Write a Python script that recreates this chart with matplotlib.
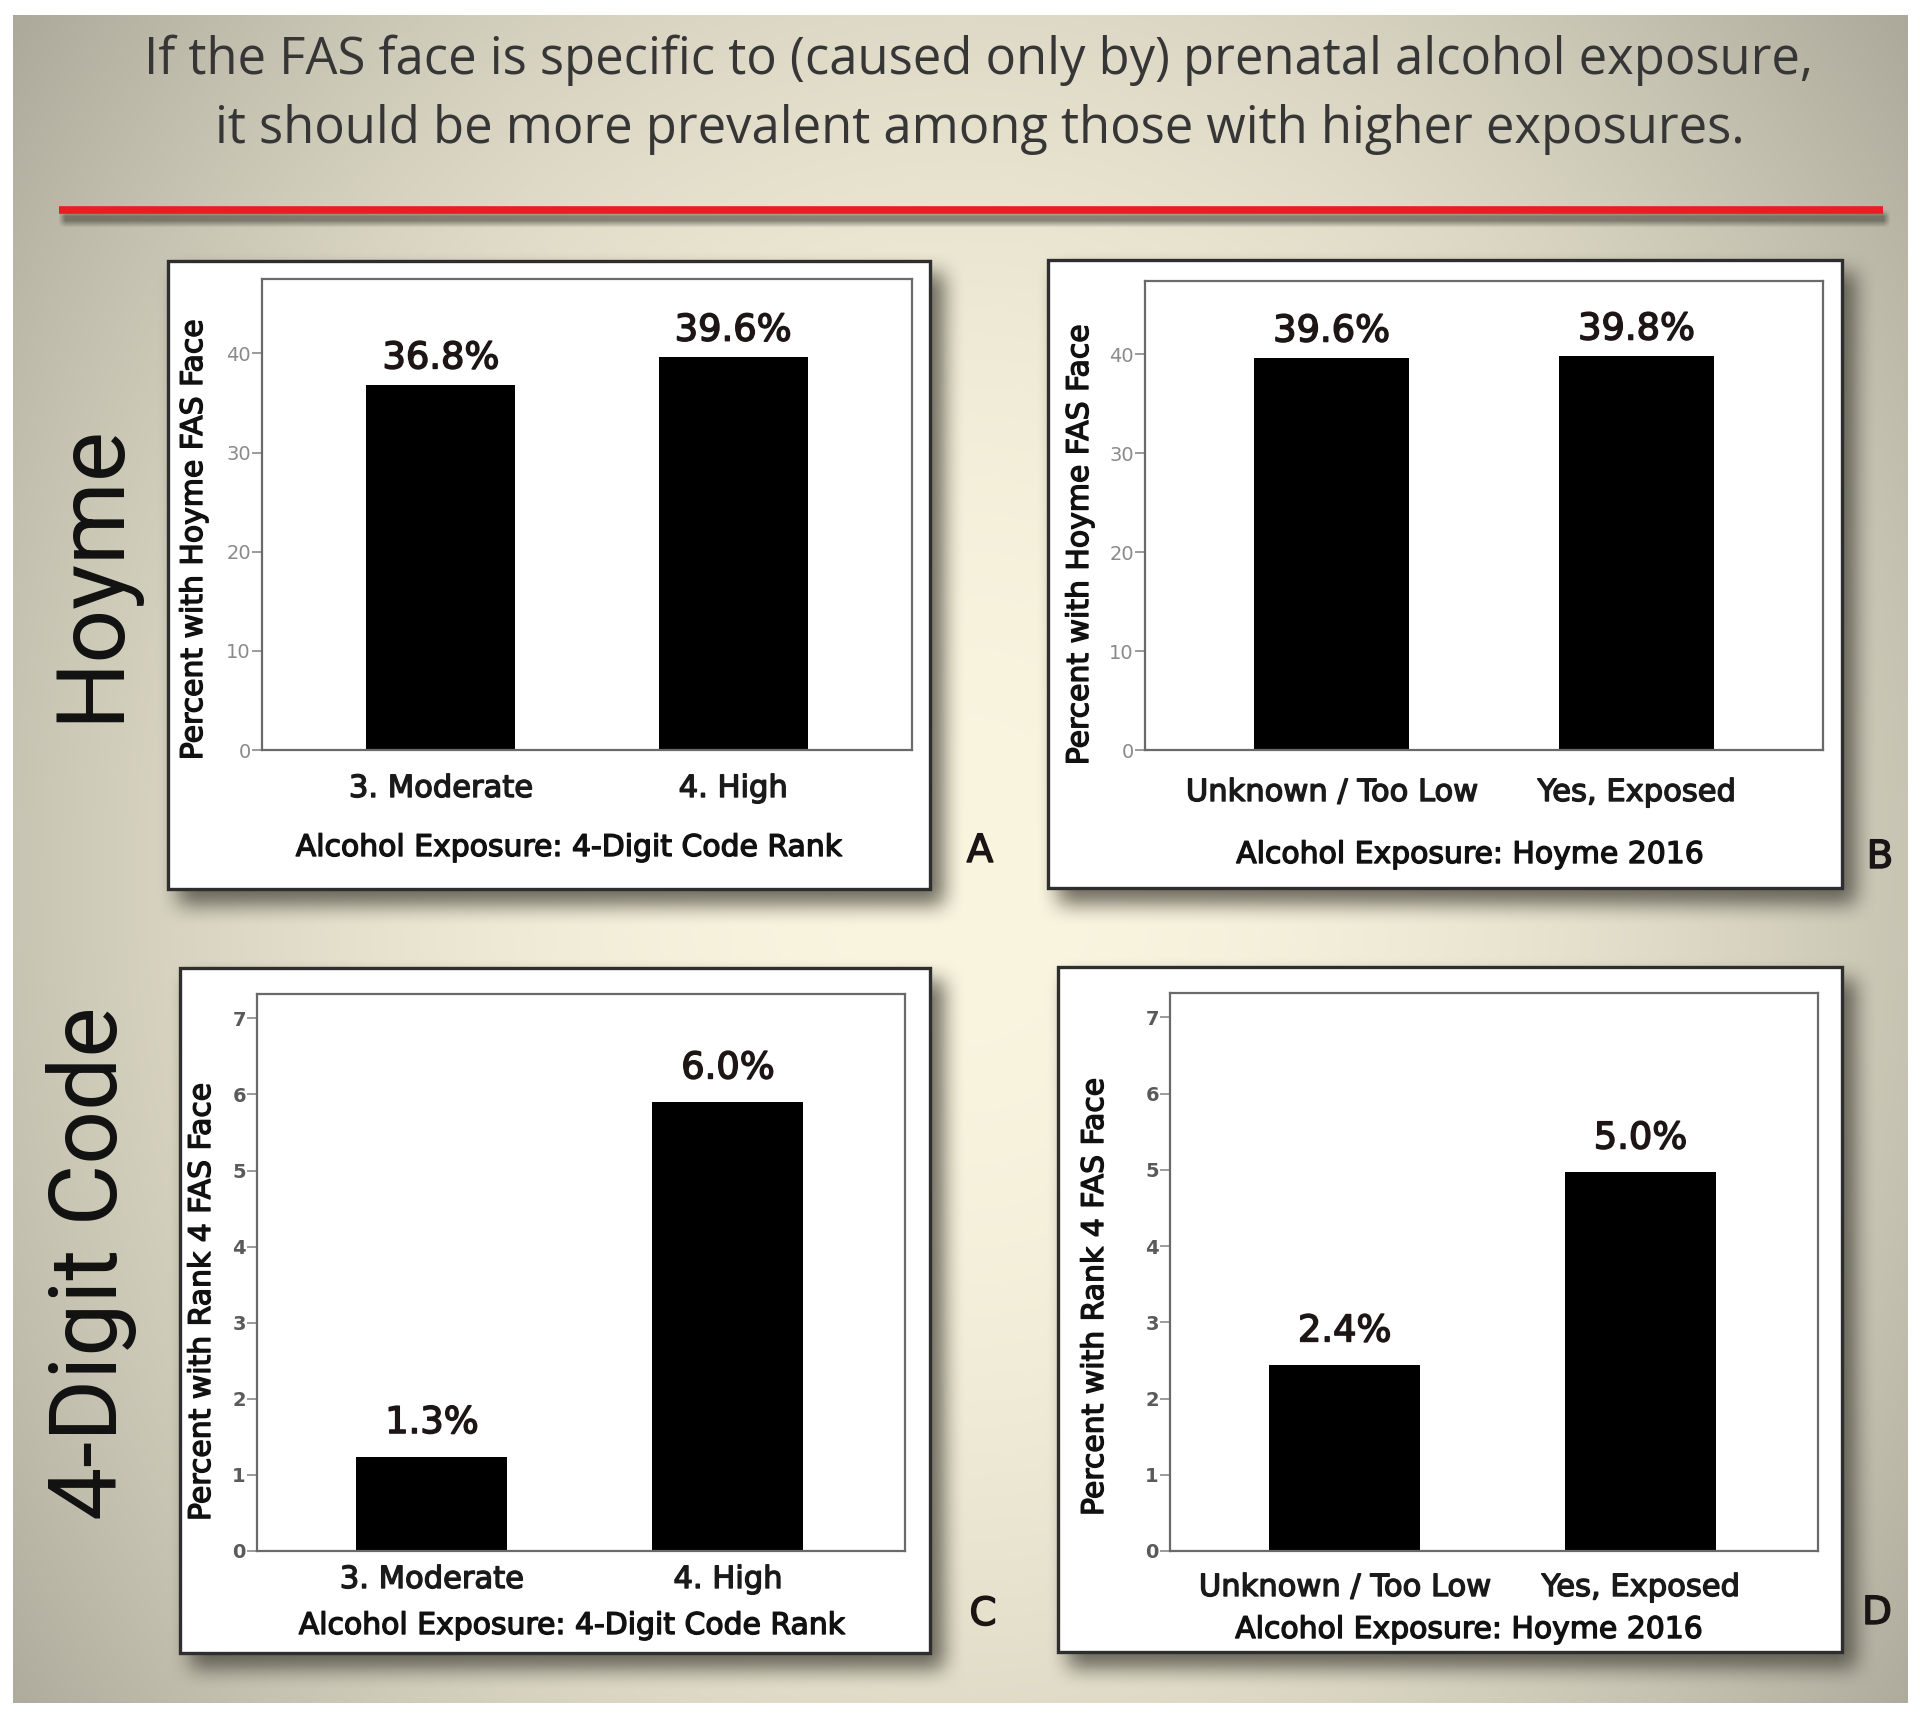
import numpy as np
import matplotlib
matplotlib.use("Agg")
import matplotlib.pyplot as plt
import matplotlib.patheffects as pe
from matplotlib.patches import Rectangle

W, H = 1920, 1714

# ---------------- data ----------------
title_lines = ["If the FAS face is specific to (caused only by) prenatal alcohol exposure,",
               "it should be more prevalent among those with higher exposures."]
row_labels = ["Hoyme", "4-Digit Code"]
panel_letters = ["A", "B", "C", "D"]

cats_rank = ["3. Moderate", "4. High"]
cats_hoyme = ["Unknown / Too Low", "Yes, Exposed"]
xlabel_rank = "Alcohol Exposure: 4-Digit Code Rank"
xlabel_hoyme = "Alcohol Exposure: Hoyme 2016"
ylabel_hoyme_face = "Percent with Hoyme FAS Face"
ylabel_rank4_face = "Percent with Rank 4 FAS Face"

vals_A = [36.8, 39.6]
labels_A = ["36.8%", "39.6%"]
vals_B = [39.6, 39.8]
labels_B = ["39.6%", "39.8%"]
vals_C = [1.24, 5.90]
labels_C = ["1.3%", "6.0%"]
vals_D = [2.44, 4.97]
labels_D = ["2.4%", "5.0%"]

yticks_hoyme = [0, 10, 20, 30, 40]
yticks_rank4 = [0, 1, 2, 3, 4, 5, 6, 7]

# ---------------- layout (pixels) ----------------
panels = [
    dict(box=(168, 261, 930, 889), ax=(262, 279, 912, 750), cats=cats_rank, vals=vals_A,
         labels=labels_A, yt=yticks_hoyme, ylim=47.5, xlim=(-0.612, 1.612), ylab=ylabel_hoyme_face,
         ylab_pos=(202, 540), xlab=xlabel_rank, xlab_pos=(569, 856), tick_base=797,
         lab_off=12.0, tcol="#8a8a8a", tweight="normal", letter=(980, 862)),
    dict(box=(1048, 260, 1842, 888), ax=(1145, 281, 1823, 750), cats=cats_hoyme, vals=vals_B,
         labels=labels_B, yt=yticks_hoyme, ylim=47.4, xlim=(-0.612, 1.612), ylab=ylabel_hoyme_face,
         ylab_pos=(1088, 545), xlab=xlabel_hoyme, xlab_pos=(1470, 863), tick_base=801,
         lab_off=12.0, tcol="#8a8a8a", tweight="normal", letter=(1880, 868)),
    dict(box=(180, 968, 930, 1653), ax=(257, 994, 905, 1551), cats=cats_rank, vals=vals_C,
         labels=labels_C, yt=yticks_rank4, ylim=7.32, xlim=(-0.59, 1.598), ylab=ylabel_rank4_face,
         ylab_pos=(210, 1302), xlab=xlabel_rank, xlab_pos=(572, 1634), tick_base=1588,
         lab_off=17.0, tcol="#5a5a5a", tweight="bold", letter=(983, 1625)),
    dict(box=(1058, 967, 1842, 1652), ax=(1170, 993, 1818, 1551), cats=cats_hoyme, vals=vals_D,
         labels=labels_D, yt=yticks_rank4, ylim=7.32, xlim=(-0.59, 1.60), ylab=ylabel_rank4_face,
         ylab_pos=(1103, 1297), xlab=xlabel_hoyme, xlab_pos=(1469, 1638), tick_base=1596,
         lab_off=17.0, tcol="#5a5a5a", tweight="bold", letter=(1877, 1624)),
]

# ---------------- background image ----------------
def box_blur(a, r):
    k = 2 * r + 1
    p = np.pad(a, ((r + 1, r), (0, 0)), mode="edge")
    c = np.cumsum(p, axis=0)
    a = (c[k:] - c[:-k]) / k
    p = np.pad(a, ((0, 0), (r + 1, r)), mode="edge")
    c = np.cumsum(p, axis=1)
    return (c[:, k:] - c[:, :-k]) / k

yy, xx = np.mgrid[0:H, 0:W].astype(float)
d = np.sqrt(((xx - 960) / 1150.0) ** 2 + ((yy - 880) / 1400.0) ** 2)
t = np.clip(d, 0, 1.1) ** 2
t = np.clip(t, 0, 1.05)
C0 = np.array([250, 245, 223]) / 255.0
C1 = np.array([176, 173, 158]) / 255.0
img = C0[None, None, :] + (C1 - C0)[None, None, :] * t[:, :, None]

S = np.zeros((H, W))
for p in panels:
    x0, y0, x1, y1 = p["box"]
    S[y0 + 12:y1 + 16, x0 + 10:x1 + 14] = 1.0
S = box_blur(box_blur(S, 11), 11)
L = np.zeros((H, W))
L[213:224, 62:1887] = 1.0
L = box_blur(L, 3)
A = np.clip(0.78 * S + 0.6 * L, 0, 0.9)
shadow_col = np.array([70, 68, 58]) / 255.0
img = img * (1 - A[:, :, None]) + shadow_col[None, None, :] * A[:, :, None]

outside = (xx < 13) | (xx > 1907) | (yy < 15) | (yy > 1702)
img[outside] = 1.0

# ---------------- figure ----------------
fig = plt.figure(figsize=(W / 100, H / 100), dpi=100)
bg = fig.add_axes([0, 0, 1, 1], zorder=0)
bg.imshow(img, extent=[0, W, H, 0], aspect="auto", interpolation="bilinear")
bg.set_xlim(0, W)
bg.set_ylim(H, 0)
bg.axis("off")

def thick(color, lw=0.9):
    return [pe.withStroke(linewidth=lw, foreground=color)]

# title
bg.text(978, 74, title_lines[0], family="Open Sans", fontsize=36.5, color="#363636",
        ha="center", va="baseline")
bg.text(980, 143, title_lines[1], family="Open Sans", fontsize=36.5, color="#363636",
        ha="center", va="baseline")
# red rule
bg.plot([59, 1883], [210, 210], color="#ec1c24", lw=5.5, solid_capstyle="butt")

# row labels
for lab, yc in zip(row_labels, [573, 1263]):
    bg.text(117, yc, lab, family="Roboto", fontweight="normal", fontsize=68,
            color="#111111", rotation=90, rotation_mode="anchor", ha="center", va="baseline")

for i, p in enumerate(panels):
    x0, y0, x1, y1 = p["box"]
    bg.add_patch(Rectangle((x0, y0), x1 - x0, y1 - y0, facecolor="white",
                           edgecolor="#2e2e2e", lw=2.4, zorder=2))
    lx, ly = p["letter"]
    bg.text(lx, ly, panel_letters[i], family="DejaVu Sans", fontsize=28, color="#1a1414",
            ha="center", va="baseline", path_effects=thick("#1a1414", 1.0))

    ax0, ay0, ax1, ay1 = p["ax"]
    ax = fig.add_axes([ax0 / W, 1 - ay1 / H, (ax1 - ax0) / W, (ay1 - ay0) / H], zorder=3)
    ax.set_facecolor("white")
    x = np.arange(len(p["cats"]))
    ax.bar(x, p["vals"], width=0.51, color="black", edgecolor="none")
    ax.set_xlim(*p["xlim"])
    ax.set_ylim(0, p["ylim"])
    for xi, v, lab in zip(x, p["vals"], p["labels"]):
        ax.annotate(lab, (xi, v), xytext=(0, p["lab_off"]), textcoords="offset points",
                    ha="center", va="baseline", fontsize=26.5, color="#1e1616",
                    family="DejaVu Sans", path_effects=thick("#1e1616", 1.1))
    for s in ax.spines.values():
        s.set_color("#6a6a6a")
        s.set_linewidth(1.6)
    ax.set_yticks(p["yt"])
    ax.tick_params(axis="y", length=7, width=1.2, color="#8a8a8a", pad=1,
                   labelsize=14, labelcolor=p["tcol"])
    for tl in ax.get_yticklabels():
        tl.set_fontweight(p["tweight"])
        tl.set_family("DejaVu Sans")
    pad_pt = (p["tick_base"] - ay1) * 72 / 100.0
    ax.set_xticks(x)
    ax.set_xticklabels(p["cats"], fontsize=22, color="#1a1a1a", family="DejaVu Sans")
    ax.tick_params(axis="x", length=0, pad=pad_pt)
    plt.setp(ax.get_xticklabels(), va="baseline", path_effects=thick("#1a1a1a", 1.0))

    ax.set_ylabel(p["ylab"], fontsize=21.5, color="#111111", family="DejaVu Sans",
                  va="baseline", ha="center", rotation_mode="anchor",
                  path_effects=thick("#111111", 1.0))
    ax.yaxis.set_label_coords(p["ylab_pos"][0], p["ylab_pos"][1], transform=bg.transData)
    ax.set_xlabel(p["xlab"], fontsize=21.5, color="#111111", family="DejaVu Sans",
                  va="baseline", ha="center", path_effects=thick("#111111", 1.0))
    ax.xaxis.set_label_coords(p["xlab_pos"][0], p["xlab_pos"][1], transform=bg.transData)

fig.savefig("out.png", dpi=100)
